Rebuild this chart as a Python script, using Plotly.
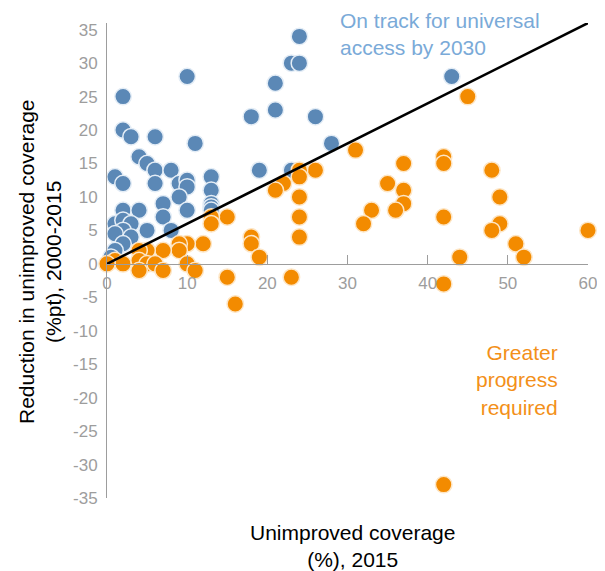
import plotly.graph_objects as go

# On track (blue) countries: unimproved coverage 2015 (%) vs reduction 2000-2015 (%pt)
blue_x = [24, 23, 24, 10, 21, 2, 21, 18, 26, 43, 2, 3, 6, 11, 28, 4, 5, 6, 8, 19, 23,
          1, 2, 6, 9, 10, 10, 13, 13, 9, 7, 13, 13, 13, 2, 4, 10, 7,
          1, 2, 3, 2, 5, 8, 1, 3, 2, 1, 0.5]
blue_y = [34, 30, 30, 28, 27, 25, 23, 22, 22, 28, 20, 19, 19, 18, 18, 16, 15, 14, 14, 14, 14,
          13, 12, 12, 12, 12.5, 11.5, 13, 11, 10, 9, 9, 8.5, 8, 8, 8, 8, 7,
          6, 6.5, 6, 5, 5, 5, 4.5, 4, 3, 2, 1]

# Greater progress required (orange)
orange_x = [45, 31, 42, 42, 37, 48, 26, 24, 24, 22, 35, 21, 37, 24, 49, 37, 33, 36, 15, 13,
            24, 42, 13, 32, 49, 48, 60, 18, 24, 18, 12, 10, 9, 51, 9, 7, 5, 4, 19, 44,
            52, 1, 2, 4, 5, 6, 10, 0, 4, 7, 11, 15, 23, 42, 16, 42]
orange_y = [25, 17, 16, 15, 15, 14, 14, 14, 13, 12, 12, 11, 11, 10, 10, 9, 8, 8, 7, 7,
            7, 7, 6, 6, 6, 5, 5, 4, 4, 3, 3, 3, 3, 3, 2, 2, 2, 2, 1, 1,
            1, 0.5, 0, 0.5, 0, 0, 0, 0, -1, -1, -1, -2, -2, -3, -6, -33]

# Threshold line for universal access by 2030
line_x = [0, 60]
line_y = [0, 36]

x_ticks = [0, 10, 20, 30, 40, 50, 60]
y_ticks = [35, 30, 25, 20, 15, 10, 5, 0, -5, -10, -15, -20, -25, -30, -35]

x_range = [0, 60]
y_range = [-35, 36]

FONT = "Liberation Sans, Arial, Helvetica, sans-serif"
BLUE = "#5b88b6"
ORANGE = "#f38b00"
GRAY = "#9d9d9d"

# page body has an 8px margin; size the figure so the plot lands where the reference has it
PAGE_OFF = 8
W, H = 605 - PAGE_OFF, 571 - PAGE_OFF
L, R, T, B = 107 - PAGE_OFF, 17, 23 - PAGE_OFF, 73
PW, PH = W - L - R, H - T - B


def px_x(px):
    return (px - PAGE_OFF - L) / PW


def px_y(py):
    return (H - B - (py - PAGE_OFF)) / PH


fig = go.Figure()
fig.add_trace(go.Scatter(
    x=blue_x, y=blue_y, mode="markers", cliponaxis=False,
    marker=dict(size=16.5, color=BLUE, line=dict(color="#e4edf6", width=1.5)),
    hoverinfo="x+y"))
fig.add_trace(go.Scatter(
    x=orange_x, y=orange_y, mode="markers", cliponaxis=False,
    marker=dict(size=16.5, color=ORANGE, line=dict(color="#fde6c6", width=1.5)),
    hoverinfo="x+y"))
fig.add_trace(go.Scatter(
    x=line_x, y=line_y, mode="lines", cliponaxis=False,
    line=dict(color="black", width=2.5), hoverinfo="skip"))

zero_frac = (0 - y_range[0]) / (y_range[1] - y_range[0])

fig.update_layout(
    width=W, height=H,
    margin=dict(l=L, r=R, t=T, b=B, autoexpand=False),
    paper_bgcolor="white", plot_bgcolor="white",
    showlegend=False,
    font=dict(family=FONT),
    xaxis=dict(
        range=x_range, anchor="free", position=zero_frac, automargin=False,
        showgrid=False, zeroline=False,
        showline=True, linecolor=GRAY, linewidth=1,
        ticks="inside", ticklen=9, tickcolor=GRAY, tickwidth=1,
        tickvals=x_ticks, ticktext=[str(v) for v in x_ticks],
        tickfont=dict(size=17, color=GRAY, family=FONT),
        ticklabelstandoff=4,
    ),
    yaxis=dict(
        range=y_range, automargin=False,
        showgrid=False, zeroline=False,
        showline=True, linecolor=GRAY, linewidth=1,
        ticks="", tickvals=y_ticks, ticktext=[str(v) for v in y_ticks],
        tickfont=dict(size=17, color=GRAY, family=FONT),
        ticklabelstandoff=5,
    ),
    annotations=[
        dict(text="Unimproved coverage<br>(%), 2015", xref="paper", yref="paper",
             x=px_x(352), y=px_y(545.5), xanchor="center", yanchor="middle",
             showarrow=False, font=dict(size=21, color="black", family=FONT)),
        dict(text="Reduction in unimproved coverage<br>(%pt), 2000-2015", xref="paper", yref="paper",
             x=px_x(40), y=px_y(262), xanchor="center", yanchor="middle",
             textangle=-90, showarrow=False, font=dict(size=21, color="black", family=FONT)),
        dict(text="On track for universal<br>access by 2030", xref="paper", yref="paper",
             x=px_x(338), y=px_y(34.5), xanchor="left", yanchor="middle", align="left",
             showarrow=False, font=dict(size=21, color="#7aaad8", family=FONT)),
        dict(text="Greater<br>progress<br>required", xref="paper", yref="paper",
             x=px_x(560), y=px_y(380), xanchor="right", yanchor="middle", align="right",
             showarrow=False, font=dict(size=21, color="#f39019", family=FONT)),
    ],
)

fig.write_html("out.html")
